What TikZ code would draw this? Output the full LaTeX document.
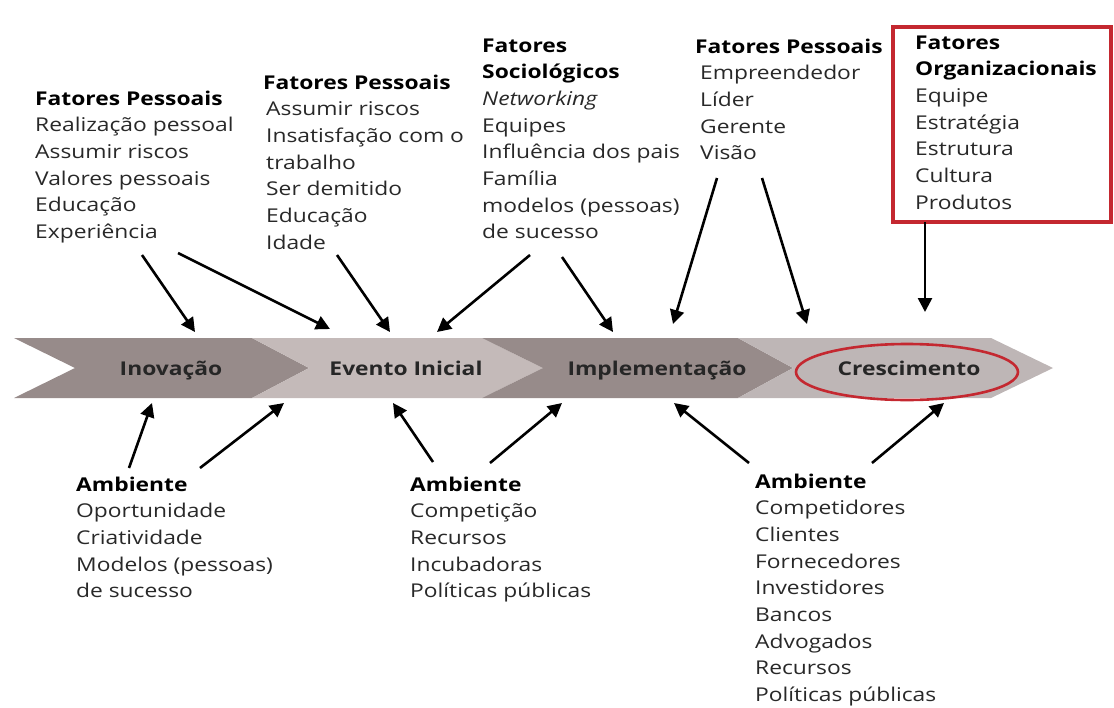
\documentclass[tikz,border=0pt]{standalone}
\usepackage{fontspec}
\setmainfont{Open Sans}[FakeStretch=1.2]
\usetikzlibrary{arrows.meta}

\definecolor{escuro}{RGB}{151,139,138}
\definecolor{claro}{RGB}{196,186,185}
\definecolor{claro2}{RGB}{190,182,182}
\definecolor{vermelho}{RGB}{196,40,48}
\definecolor{texto}{RGB}{40,40,40}

\begin{document}
\begin{tikzpicture}[x=1pt,y=-1pt,
    bloco/.style={anchor=base west,inner sep=0pt,align=left,text=texto,
        font=\fontsize{19}{26.7}\selectfont},
    etapa/.style={anchor=base,inner sep=0pt,text=black!85,font=\fontsize{19}{20}\selectfont\bfseries},
    seta/.style={line width=2.6pt,-{Triangle[length=14pt,width=14pt]}}]
        \useasboundingbox (0,0) rectangle (1114,707);

        % faixa com as quatro etapas
        \fill[escuro] (14,338) -- (252,338) -- (309,368) -- (252,398) -- (14,398) -- (75,368) -- cycle;
        \fill[claro] (252,338) -- (482,338) -- (543,368) -- (482,398) -- (252,398) -- (309,368) -- cycle;
        \fill[escuro] (482,338) -- (738,338) -- (793,368) -- (738,398) -- (482,398) -- (543,368) -- cycle;
        \fill[claro2] (738,338) -- (991,338) -- (1053,368) -- (991,398) -- (738,398) -- (793,368) -- cycle;

        \node[etapa] (inov) at (171,375) {Inovação};
        \node[etapa] (evento) at (406,375) {Evento Inicial};
        \node[etapa] (impl) at (657,375) {Implementação};
        \node[etapa] (cresc) at (909,375) {Crescimento};
        \draw[vermelho,line width=2.6pt] (907,372) ellipse (111 and 28);

        % fatores acima da faixa (base = ultima linha)
        \node[bloco] (pess1) at (35,238.5) {\textbf{\color{black}Fatores Pessoais}\\
            Realização pessoal\\Assumir riscos\\Valores pessoais\\Educação\\Experiência};
        \node[bloco] (pess2) at (263,249.2) {\textbf{\color{black}Fatores Pessoais}\\
            \hspace{3pt}Assumir riscos\\\hspace{3pt}Insatisfação com o\\\hspace{3pt}trabalho\\
            \hspace{3pt}Ser demitido\\\hspace{3pt}Educação\\\hspace{3pt}Idade};
        \node[bloco] (socio) at (482,238.9) {\textbf{\color{black}Fatores}\\\textbf{\color{black}Sociológicos}\\
            \textit{Networking}\\Equipes\\Influência dos pais\\Família\\modelos (pessoas)\\de sucesso};
        \node[bloco] (pess3) at (695,159.8) {\textbf{\color{black}Fatores Pessoais}\\
            \hspace{5pt}Empreendedor\\\hspace{5pt}Líder\\\hspace{5pt}Gerente\\\hspace{5pt}Visão};
        \node[bloco] (org) at (915,209.2) {\textbf{\color{black}Fatores}\\\textbf{\color{black}Organizacionais}\\
            Equipe\\Estratégia\\Estrutura\\Cultura\\Produtos};
        \draw[vermelho,line width=4pt] (893,27) rectangle (1111,222);

        % ambiente abaixo da faixa
        \node[bloco] (amb1) at (76,597.8) {\textbf{\color{black}Ambiente}\\
            Oportunidade\\Criatividade\\Modelos (pessoas)\\de sucesso};
        \node[bloco] (amb2) at (410,597.8) {\textbf{\color{black}Ambiente}\\
            Competição\\Recursos\\Incubadoras\\Políticas públicas};
        \node[bloco] (amb3) at (755,701.6) {\textbf{\color{black}Ambiente}\\
            Competidores\\Clientes\\Fornecedores\\Investidores\\Bancos\\Advogados\\Recursos\\Políticas públicas};

        % pontas das setas
        \coordinate (t1) at (142,255);  \coordinate (h1) at (195,332);
        \coordinate (t2) at (178,253);  \coordinate (h2) at (330,329);
        \coordinate (t3) at (337,255);  \coordinate (h3) at (390,332);
        \coordinate (t4) at (530,255);  \coordinate (h4) at (437,332);
        \coordinate (t5) at (562,257);  \coordinate (h5) at (613,332);
        \coordinate (t6) at (717,178);  \coordinate (h6) at (673,324);
        \coordinate (t7) at (762,178);  \coordinate (h7) at (807,324);
        \coordinate (t8) at (925,222);  \coordinate (h8) at (925,312);

        \coordinate (b1) at (129,468);  \coordinate (c1) at (152,403);
        \coordinate (b2) at (200,468);  \coordinate (c2) at (284,403);
        \coordinate (b3) at (433,462);  \coordinate (c3) at (393,403);
        \coordinate (b4) at (490,463);  \coordinate (c4) at (562,403);
        \coordinate (b5) at (749,463);  \coordinate (c5) at (674,403);
        \coordinate (b6) at (872,463);  \coordinate (c6) at (944,403);

        \draw[seta] (t1) -- (h1);
        \draw[seta] (t2) -- (h2);
        \draw[seta] (t3) -- (h3);
        \draw[seta] (t4) -- (h4);
        \draw[seta] (t5) -- (h5);
        \draw[seta] (t6) -- (h6);
        \draw[seta] (t7) -- (h7);
        \draw[seta] (t8) -- (h8);

        \draw[seta] (b1) -- (c1);
        \draw[seta] (b2) -- (c2);
        \draw[seta] (b3) -- (c3);
        \draw[seta] (b4) -- (c4);
        \draw[seta] (b5) -- (c5);
        \draw[seta] (b6) -- (c6);
    \end{tikzpicture}
\end{document}
